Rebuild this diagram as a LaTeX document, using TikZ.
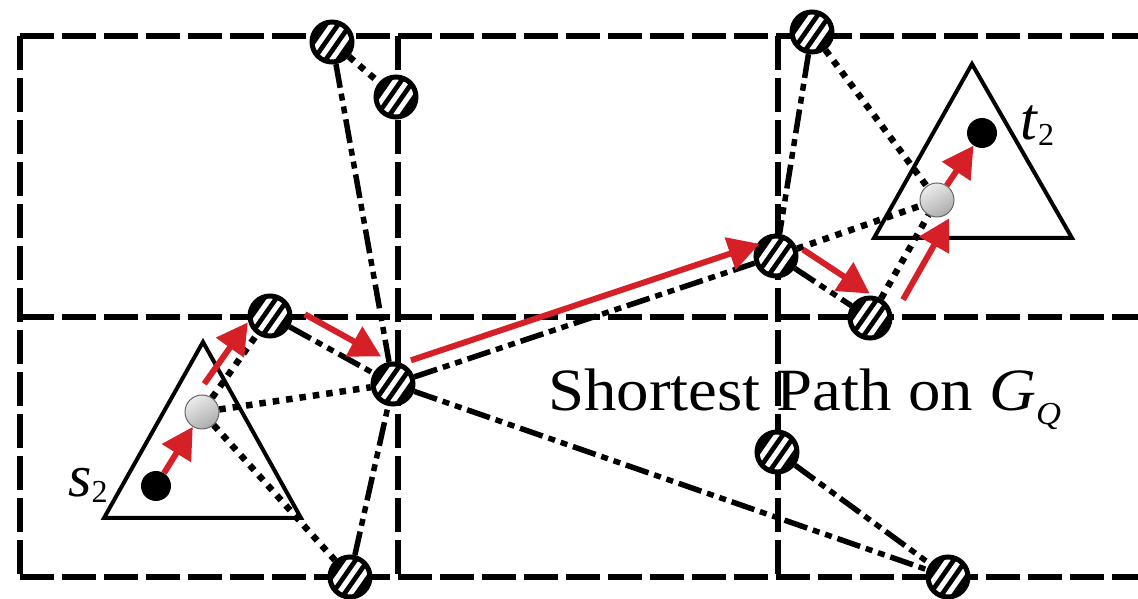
\documentclass[tikz,border=0pt]{standalone}
\usepackage{fontspec}
\setmainfont{Liberation Serif}
\usetikzlibrary{arrows.meta}
\usetikzlibrary{calc}
\definecolor{pathred}{RGB}{213,32,39}

\begin{document}
\begin{tikzpicture}[x=1pt,y=1pt,
  cellline/.style={line width=6pt,dash pattern=on 34pt off 8pt},
  dashdot2/.style={line width=5.5pt,dash pattern=on 24pt off 6pt on 7pt off 6pt on 7pt off 6pt},
  dots/.style={line width=6.5pt,dash pattern=on 6.5pt off 7pt},
  hatched/.style={circle,draw,line width=5pt,minimum size=40pt,inner sep=0pt,fill=black,
    path picture={\begin{scope}[shift={(path picture bounding box.center)}]
      \foreach \k in {-10,0,10}
        \draw[white,line width=5pt] (-0.819*\k-17.2,0.574*\k-24.6) -- (-0.819*\k+17.2,0.574*\k+24.6);
    \end{scope}}},
  blackdot/.style={circle,fill=black,minimum size=30pt,inner sep=0pt},
  greydot/.style={circle,draw=gray!80!black,line width=1pt,minimum size=34pt,inner sep=0pt,
    top color=gray!15,bottom color=gray!65,shading angle=30},
  region/.style={line width=4pt,line join=miter},
  redarrow/.style={draw=pathred,line width=6pt,-{Triangle[length=31pt,width=33pt]}},
  lbl/.style={font=\fontsize{60}{60}\selectfont,inner sep=0pt}
]
 \useasboundingbox (0,0) rectangle (1138,599);
 % cells
 \draw[cellline] (20,563) -- (1138,563);
 \draw[cellline] (20,282) -- (1138,282);
 \draw[cellline] (20,22) -- (1138,22);
 \foreach \x in {20,398,778} \draw[cellline] (\x,563) -- (\x,22);

 % source and target regions
 \draw[region] (203,257) -- (104,81) -- (301,81) -- cycle;
 \draw[region] (972,535) -- (874,361) -- (1072,361) -- cycle;

 % vertices
 \node[hatched] (p1) at (332,557) {};
 \node[hatched] (p2) at (396,502) {};
 \node[hatched] (p3) at (270,283) {};
 \node[hatched] (p4) at (393,215) {};
 \node[hatched] (p5) at (350,22) {};
 \node[hatched] (p6) at (776,343) {};
 \node[hatched] (p7) at (812,567) {};
 \node[hatched] (p8) at (870,281) {};
 \node[hatched] (p9) at (777,147) {};
 \node[hatched] (p10) at (948,22) {};
 \node[blackdot] (s) at (156,113) {};
 \node[greydot] (sg) at (202,187) {};
 \node[blackdot] (t) at (982,466) {};
 \node[greydot] (tg) at (937,399) {};

 % edges
 \draw[dots] (p1) -- (p2);
 \draw[dashdot2] (p1) -- (p4);
 \draw[dashdot2] (p3) -- (p4);
 \draw[dots] (sg) -- (p3);
 \draw[dots] (sg) -- (p4);
 \draw[dots] (sg) -- (p5);
 \draw[dashdot2] (p5) -- (p4);
 \draw[dashdot2] (p4) -- (p6);
 \draw[dashdot2] (p4) -- (p10);
 \draw[dashdot2] (p7) -- (p6);
 \draw[dots] (p7) -- (tg);
 \draw[dots] (p6) -- (tg);
 \draw[dashdot2] (p6) -- (p8);
 \draw[dots] (p8) -- (tg);
 \draw[dashdot2] (p9) -- (p10);

 % shortest path
 \draw[redarrow] (s) -- (sg);
 \draw[redarrow] ($(sg)!0.21!(p3)+(-12,8)$) -- ($(sg)!0.85!(p3)+(-12,8)$);
 \draw[redarrow] ($(p3)!0.21!(p4)+(9,16)$) -- ($(p3)!0.83!(p4)+(9,16)$);
 \draw[redarrow] ($(p4)!0.06!(p6)+(-5,16)$) -- ($(p4)!0.97!(p6)+(-5,16)$);
 \draw[redarrow] ($(p6)!0.17!(p8)+(11,17)$) -- ($(p6)!0.88!(p8)+(11,17)$);
 \draw[redarrow] ($(p8)!0.24!(tg)+(17,-10)$) -- ($(p8)!0.93!(tg)+(17,-10)$);
 \draw[redarrow] (tg) -- (t);

 % labels
 \node[lbl,anchor=base west] (slbl) at (68,102) {\textit{s}\raisebox{-6pt}{\fontsize{32}{32}\selectfont 2}};
 \node[lbl,anchor=base west] (tlbl) at (1020,459) {\textit{t}\raisebox{-6pt}{\fontsize{32}{32}\selectfont 2}};
 \node[lbl,anchor=base west] (pathlbl) at (548,188) {\scalebox{1.08}[1]{Shortest Path on \textit{G}\raisebox{-14pt}{\fontsize{32}{32}\selectfont\textit{Q}}}};
\end{tikzpicture}
\end{document}
